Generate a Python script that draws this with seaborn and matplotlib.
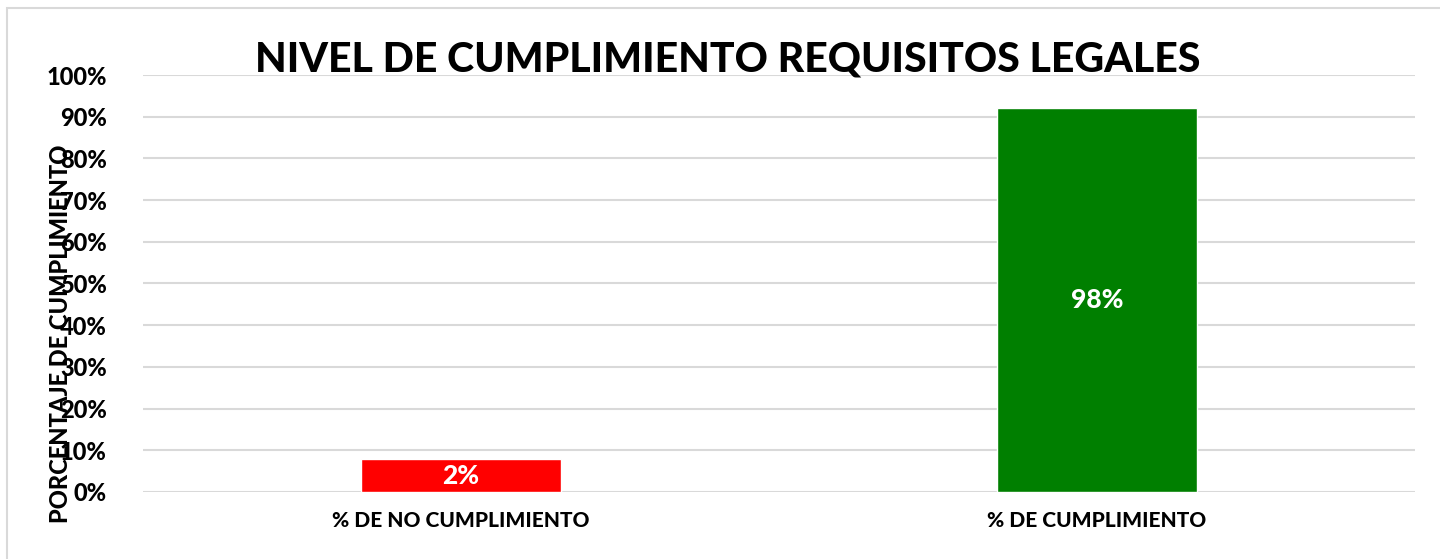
import matplotlib
matplotlib.use('Agg')
import matplotlib.pyplot as plt
import seaborn as sns
from matplotlib.patches import Rectangle
from matplotlib.ticker import PercentFormatter

# datos
categorias = ['% DE NO CUMPLIMIENTO', '% DE CUMPLIMIENTO']
alturas = [0.078, 0.921]
etiquetas = ['2%', '98%']
colores = ['#ff0000', '#007f00']

sns.set_style('white')
plt.rcParams['font.family'] = ['Lato', 'DejaVu Sans']
plt.rcParams['text.color'] = 'black'
plt.rcParams['axes.labelcolor'] = 'black'
plt.rcParams['xtick.color'] = 'black'
plt.rcParams['ytick.color'] = 'black'

fig = plt.figure(figsize=(14.4, 5.59), dpi=100)
ax = fig.add_axes([0.0993, 0.1199, 0.8833, 0.7459])

sns.barplot(x=categorias, y=alturas, hue=categorias, palette=colores,
            width=0.314, legend=False, saturation=1, ax=ax, zorder=3)

ax.set_xlim(-0.5, 1.5)
ax.set_ylim(0, 1.0)
ax.set_yticks([i / 10 for i in range(11)])
ax.yaxis.set_major_formatter(PercentFormatter(1.0, decimals=0))
ax.grid(axis='y', color='#d9d9d9', linewidth=1.5, zorder=0)
ax.set_axisbelow(True)
for s in ax.spines.values():
    s.set_visible(False)
ax.tick_params(axis='y', length=0, pad=26, labelsize=17)
ax.tick_params(axis='x', length=0, pad=14, labelsize=15)
for t in ax.get_yticklabels() + ax.get_xticklabels():
    t.set_fontweight('black')

# etiquetas de datos centradas en cada barra
for i, (h, txt) in enumerate(zip(alturas, etiquetas)):
    ax.text(i, h / 2, txt, ha='center', va='center', color='white',
            fontsize=19, fontweight='black', zorder=4)

ax.set_ylabel('PORCENTAJE DE CUMPLIMIENTO', fontsize=17, fontweight='black')
ax.yaxis.set_label_coords(-0.056, 0.38)

fig.text(0.505, 0.893, 'NIVEL DE CUMPLIMIENTO REQUISITOS LEGALES',
         ha='center', va='center', fontsize=29.5, fontweight='black')

# marco exterior del grafico
fig.patches.append(Rectangle((0.005, -0.1), 1.1, 1.086, transform=fig.transFigure,
                             fill=False, edgecolor='#d9d9d9', linewidth=1.5))

fig.savefig('out.png', dpi=100)
